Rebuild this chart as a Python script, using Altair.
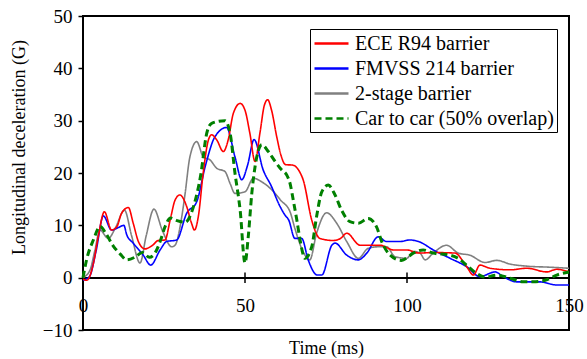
import altair as alt
import pandas as pd

SERIES = ["ECE R94 barrier", "FMVSS 214 barrier", "2-stage barrier", "Car to car (50% overlap)"]
COLORS = ["#ff0000", "#0000ff", "#808080", "#008000"]

red_t = [0, 1.2, 3.2, 4.7, 6.6, 8.8, 10.5, 11.9, 14, 15.5, 17.1, 19.1, 21.5, 23.2, 25.3, 26.9, 28.4, 29.9, 32, 33.5, 34.4,
         35.6, 37.1, 38.7, 39.7, 41.3, 43.3, 44.8, 46.4, 48.5, 50, 51.5, 53.1, 54.6, 56, 57, 58.2, 59.8, 61.1, 62.5, 64.8,
         66.5, 68, 70.6, 73.1, 77.2, 79.5, 81.4, 85.5, 91.7, 95.8, 99.9, 103.7, 108, 114.8, 118.4, 120.5, 122.5, 125.6,
         131.8, 137, 143.1, 146.2, 150]
red_g = [-0.3, -0.5, 2.7, 7.8, 12.6, 9.1, 9.8, 12.3, 13.4, 10.4, 6.9, 5.5, 6.2, 7.1, 7.2, 11, 14.8, 15.8, 13.6, 10.4, 9.1,
         11.7, 20, 26.3, 27.3, 26.3, 24.1, 26.3, 31.4, 33.3, 32, 27.6, 22.2, 27.6, 33, 34, 32, 26.9, 23.4, 21.6, 21.5,
         20.6, 18.6, 11, 7.5, 7.1, 7.5, 8.5, 6.2, 6.2, 5.3, 5.3, 4.7, 4.8, 4.7, 2.1, 0.5, 2.4, 1.8,
         1.5, 1.8, 1.1, 1.6, 1.1]

blue_t = [0, 2, 4, 6.3, 8.8, 11, 12.6, 13.5, 15.5, 18.6, 20.9, 23.8, 25.8, 28.9, 32, 35.1, 37.7, 40.7, 44.3, 46.9, 49,
          50.8, 52.8, 55.6, 58.2, 60.5, 62.3, 63.5, 65.4, 67.5, 69.5, 72.3, 73.7, 76.8, 77.8, 81.4, 85, 87.6, 91.1, 93.7,
          97.8, 100.9, 104, 108.1, 113.3, 118.4, 122.5, 127.2, 129.7, 133.9, 141, 146.2, 150]
blue_g = [-0.5, 0.2, 5, 11.8, 9.1, 9.6, 10, 8.2, 6.6, 4.3, 2.4, 5.3, 6.9, 7.2, 12.3, 14.5, 21.2, 26.9, 28.7, 23.1, 18.7,
          21.5, 26.4, 20.6, 17.4, 14, 12, 11, 7.5, 7.5, 3.4, 0.5, 0.5, 6.2, 6.6, 4.3, 3.4, 4.7, 7.8, 6.9,
          6.9, 7.2, 6.8, 5.3, 3.7, 2.1, 0.2, 1.1, 0.2, -0.8, -0.8, -1.4, -1.4]

gray_t = [0, 2.2, 3.7, 5.2, 7.8, 10, 12.8, 15, 17.6, 19.5, 21.9, 24.5, 27.4, 28.4, 30.5, 31.5, 33, 35.1, 37.1, 39.2, 41.3,
          43.8, 45.4, 46.9, 50, 52.6, 55.2, 59.3, 61, 63.9, 65.4, 68.5, 70, 72.1, 75.2, 78.3, 81.4, 85, 88, 91.1, 93.7,
          96.3, 99.9, 102, 104, 105.6, 108.1, 112.2, 115.8, 119.4, 124.1, 127.7, 131.8, 137, 144.1, 150]
gray_g = [0, 1.5, 5.3, 9.1, 7.5, 9.5, 12.9, 8, 2.8, 8, 13.1, 9, 5.9, 6.2, 11.7, 16, 23.1, 26, 23.1, 22.5, 20.9,
          20.3, 18, 16.1, 16.4, 19, 18.3, 16.1, 14.8, 12.6, 9.4, 4.3, 3.4, 8.5, 12.4, 10.4, 6.9, 3.7, 5.6, 5.9, 5.9,
          4, 3.7, 5, 4.7, 3.4, 4.7, 6.2, 4.7, 4.3, 2.9, 3.3, 2.6, 2.2, 2, 1.8]

green_t = [0, 1.1, 3.2, 5.3, 7, 9.4, 11.5, 13.5, 16, 18.3, 20.5, 22, 23.8, 25.3, 27, 29, 31.5, 34.3, 36.3, 38.2, 39.7,
           43.8, 45.4, 46.9, 48.5, 50, 51, 52.1, 53.1, 55.2, 57.2, 59.3, 61.3, 62.9, 63.9, 64.9, 66, 67, 68.5, 70.6,
           72.1, 73.7, 75.7, 77.8, 79.8, 82.4, 85, 88, 90.6, 92.2, 94.8, 98.3, 100.4, 102, 105, 108.1, 113.3, 115.8,
           118.9, 121.5, 124.1, 127.7, 131.8, 135.9, 139, 143.1, 146.2, 150]
green_g = [0, 3.4, 7.2, 9.8, 8.5, 6, 4.5, 3.4, 3.9, 4.8, 3.9, 4.5, 6.9, 9.7, 11.4, 10.9, 10.6, 14, 19.5, 27.6, 29.5,
           30, 27.6, 20, 12.9, 2.8, 7.8, 16.1, 21.2, 25.4, 24.1, 22.2, 20.6, 19.6, 18, 14.8, 11, 7.2, 3.7, 5.9,
           11.7, 16.4, 17.7, 15.8, 12.9, 10.7, 10.4, 11.3, 9.7, 6.9, 4.3, 3.3, 4, 4.7, 5.3, 4.7, 4.3, 3.7,
           2.1, 0.8, 0.1, 0.5, -0.1, -0.8, -0.8, -0.4, 0.5, 1.1]

TICK_X = [50, 100]

rows = []
for name, ts, gs in [(SERIES[2], gray_t, gray_g), (SERIES[1], blue_t, blue_g),
                     (SERIES[0], red_t, red_g), (SERIES[3], green_t, green_g)]:
    for i, (t, g) in enumerate(zip(ts, gs)):
        rows.append({"series": name, "t": t, "g": g, "i": i})
df = pd.DataFrame(rows)
ticks_df = pd.DataFrame({"t": TICK_X})

FONT = "Liberation Serif"

xscale = alt.Scale(domain=[0, 150], nice=False, zero=False)
yscale = alt.Scale(domain=[-10, 50], nice=False)

zero = alt.Chart(df).mark_rule(color="black", strokeWidth=1.5).encode(
    y=alt.datum(0, scale=yscale)
)

tickmarks = alt.Chart(ticks_df).mark_rule(color="black", strokeWidth=1.5).encode(
    x=alt.X("t:Q", scale=xscale),
    y=alt.datum(-1),
    y2=alt.datum(1),
)

lines = alt.Chart(df).mark_line(interpolate="monotone").encode(
    x=alt.X("t:Q", scale=xscale,
            axis=alt.Axis(title="Time (ms)", values=[0, 50, 100, 150], offset=-52, domain=False,
                          ticks=False, grid=False, labelPadding=18, titlePadding=24,
                          labelFont=FONT, titleFont=FONT,
                          labelFlush=False, labelOverlap=False)),
    y=alt.Y("g:Q", scale=yscale,
            axis=alt.Axis(title="Longitudinal deceleration (G)", values=[-10, 0, 10, 20, 30, 40, 50],
                          domain=False, ticks=True, tickSize=5, tickColor="black", tickWidth=1.5,
                          labelFont=FONT, titleFont=FONT, titleY=131,
                          grid=False, labelPadding=6, titlePadding=14)),
    color=alt.Color("series:N", scale=alt.Scale(domain=SERIES, range=COLORS),
                    legend=alt.Legend(title=None, orient="none", legendX=227, legendY=13)),
    strokeDash=alt.StrokeDash("series:N", scale=alt.Scale(domain=SERIES, range=[[1, 0], [1, 0], [1, 0], [7, 4]]),
                              legend=alt.Legend(title=None, orient="none", legendX=227, legendY=13)),
    strokeWidth=alt.condition(alt.datum.series == SERIES[3], alt.value(3), alt.value(1.6)),
    order="i:Q",
)

chart = alt.layer(zero, tickmarks, lines).properties(
    width=486, height=314,
    padding={"left": 83, "top": 16, "right": 18, "bottom": 29},
    autosize=alt.AutoSizeParams(type="none"),
    background="white",
).configure_view(
    stroke="black", strokeWidth=2
).configure_axis(
    labelFont=FONT, titleFont=FONT, labelFontSize=19, titleFontSize=18,
    titleFontWeight="normal", labelColor="black", titleColor="black",
).configure_legend(
    labelFont=FONT, labelFontSize=20, labelColor="black",
    strokeColor="black", padding=3, symbolType="M-1.7,0H1.7", symbolSize=400,
    symbolOffset=7, symbolStrokeWidth=2.5, labelOffset=12, rowPadding=3, fillColor="white",
    labelLimit=400,
)

chart.save("out.html", embed_options={"renderer": "svg", "actions": False})
